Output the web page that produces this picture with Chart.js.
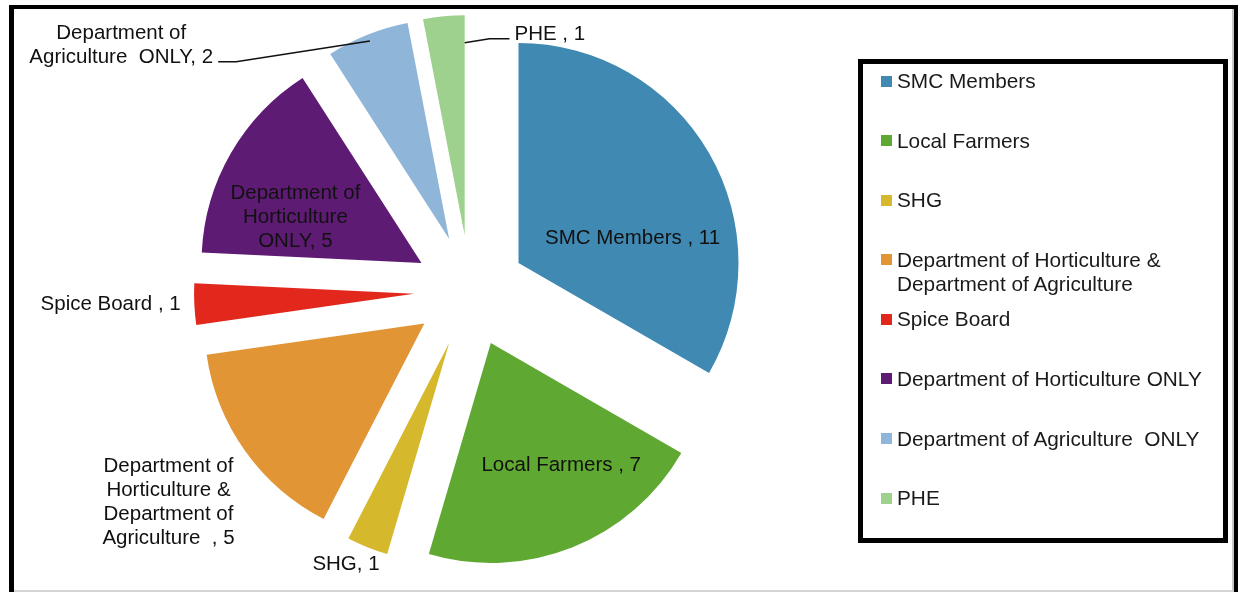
<!DOCTYPE html>
<html>
<head>
<meta charset="utf-8">
<script src="https://cdn.jsdelivr.net/npm/chart.js@4.4.1/dist/chart.umd.min.js"></script>
<style>
  body { margin: 0; background: #fff; width: 1238px; height: 592px; overflow: hidden; position: relative; font-family: "Liberation Sans", Arial, sans-serif; }
  #frame { position: absolute; left: 9px; top: 5px; width: 1229px; height: 600px; box-sizing: border-box; border: 4px solid #000; border-left-width: 5px; }
  #shade { position: absolute; left: 14px; top: 9px; width: 1220px; height: 583px; box-sizing: border-box; border-right: 2px solid #c8c8c8; border-bottom: 2px solid #d4d4d4; }
  #chart { position: absolute; left: 0; top: 0; }
  #legend { position: absolute; left: 858px; top: 59px; width: 370px; height: 484px; box-sizing: border-box; border: 5px solid #000; padding: 5px 8px 0 18px; }
  .item { display: flex; align-items: flex-start; height: 59.6px; }
  .swatch { width: 11px; height: 11px; margin-top: 6.5px; margin-right: 5px; flex: none; }
  .text { font-size: 20.8px; line-height: 24px; color: #1a1a1a; white-space: pre-wrap; }
</style>
</head>
<body>
<div id="frame"></div>
<div id="shade"></div>
<canvas id="chart" width="1238" height="592"></canvas>
<div id="legend"></div>
<script>
// slices, clockwise from 12 o'clock
const categories = [
    "SMC Members ",
    "Local Farmers ",
    "SHG",
    "Department of Horticulture & Department of Agriculture  ",
    "Spice Board ",
    "Department of Horticulture ONLY",
    "Department of Agriculture  ONLY",
    "PHE "
];
const values = [11, 7, 1, 5, 1, 5, 2, 1];
const colors = ["#4089B2", "#5FA832", "#D5B82B", "#E19535", "#E2281C", "#5E1B73", "#8FB6D8", "#9ED18D"];

const explodeShift = 56; // how far every slice is pulled out
const pieRadius = 220;
const lineGap = 24;

// label placement: angle from top (clockwise, degrees) and distance as share of radius, measured from the slice tip
const labelSpots = [
    { angle: 78, dist: 0.53, wrap: 300 },
    { angle: 150, dist: 0.64, wrap: 300 },
    { angle: 205, dist: 1.11, wrap: 300 },
    { angle: 235, dist: 1.42, wrap: 145 },
    { angle: 268, dist: 1.38, wrap: 300 },
    { angle: 290, dist: 0.61, wrap: 145 },
    { angle: 300.5, dist: 1.73, wrap: 200, leader: { from: "mid", r: 0.97, side: "right" } },
    { angle: 23, dist: 0.99, wrap: 300, leader: { from: "end", r: 0.875, side: "left" } }
];

function wrapText(ctx, text, maxWidth) {
    const words = text.split(" ");
    const lines = [];
    let line = "";
    words.forEach((w, i) => {
        const test = i === 0 ? w : line + " " + w;
        if (line !== "" && w !== "" && ctx.measureText(test).width > maxWidth) {
            lines.push(line);
            line = w;
        } else {
            line = test;
        }
    });
    lines.push(line);
    return lines;
}

// pull each slice out along its middle angle
const explodePlugin = {
    id: "explode",
    beforeDatasetsDraw(chart) {
        const area = chart.chartArea;
        const cx = (area.left + area.right) / 2;
        const cy = (area.top + area.bottom) / 2;
        chart.getDatasetMeta(0).data.forEach(arc => {
            const mid = (arc.startAngle + arc.endAngle) / 2;
            arc.x = cx + Math.cos(mid) * explodeShift;
            arc.y = cy + Math.sin(mid) * explodeShift;
        });
    }
};

const labelPlugin = {
    id: "sliceLabels",
    afterDatasetsDraw(chart) {
        const ctx = chart.ctx;
        const arcs = chart.getDatasetMeta(0).data;
        ctx.save();
        ctx.font = '20.5px "Liberation Sans", Arial, sans-serif';
        ctx.fillStyle = "#111";
        ctx.strokeStyle = "#111";
        ctx.lineWidth = 1.5;
        ctx.textAlign = "center";
        ctx.textBaseline = "middle";
        arcs.forEach((arc, i) => {
            const spot = labelSpots[i];
            const R = arc.outerRadius;
            const a = spot.angle * Math.PI / 180;
            const x = arc.x + Math.sin(a) * spot.dist * R;
            const y = arc.y - Math.cos(a) * spot.dist * R;
            const lines = wrapText(ctx, categories[i] + ", " + values[i], spot.wrap);
            const top = y - (lines.length - 1) * lineGap / 2;
            lines.forEach((ln, k) => ctx.fillText(ln, x, top + k * lineGap));

            if (spot.leader) {
                const last = lines[lines.length - 1];
                const w = ctx.measureText(last).width;
                const ey = top + (lines.length - 1) * lineGap + 4;
                const ang = spot.leader.from === "mid" ? (arc.startAngle + arc.endAngle) / 2 : arc.endAngle;
                const sx = arc.x + Math.cos(ang) * spot.leader.r * R;
                const sy = arc.y + Math.sin(ang) * spot.leader.r * R;
                const ex = spot.leader.side === "right" ? x + w / 2 + 5 : x - w / 2 - 5;
                const bx = spot.leader.side === "right" ? ex + 18 : ex - 20;
                ctx.beginPath();
                ctx.moveTo(sx, sy);
                ctx.lineTo(bx, ey);
                ctx.lineTo(ex, ey);
                ctx.stroke();
            }
        });
        ctx.restore();
    }
};

new Chart(document.getElementById("chart"), {
    type: "pie",
    data: {
        labels: categories,
        datasets: [{
            data: values,
            backgroundColor: colors,
            borderWidth: 0,
            radius: pieRadius
        }]
    },
    options: {
        responsive: false,
        animation: false,
        layout: { padding: { left: 0, right: 298, top: 0, bottom: 10 } },
        plugins: {
            legend: { display: false },
            tooltip: { enabled: false }
        }
    },
    plugins: [explodePlugin, labelPlugin]
});

// legend box on the right
const legend = document.getElementById("legend");
categories.forEach((cat, i) => {
    const item = document.createElement("div");
    item.className = "item";
    item.innerHTML = '<span class="swatch" style="background:' + colors[i] + '"></span><span class="text">' + cat.trim().replace("&", "&amp;") + "</span>";
    legend.appendChild(item);
});
</script>
</body>
</html>
